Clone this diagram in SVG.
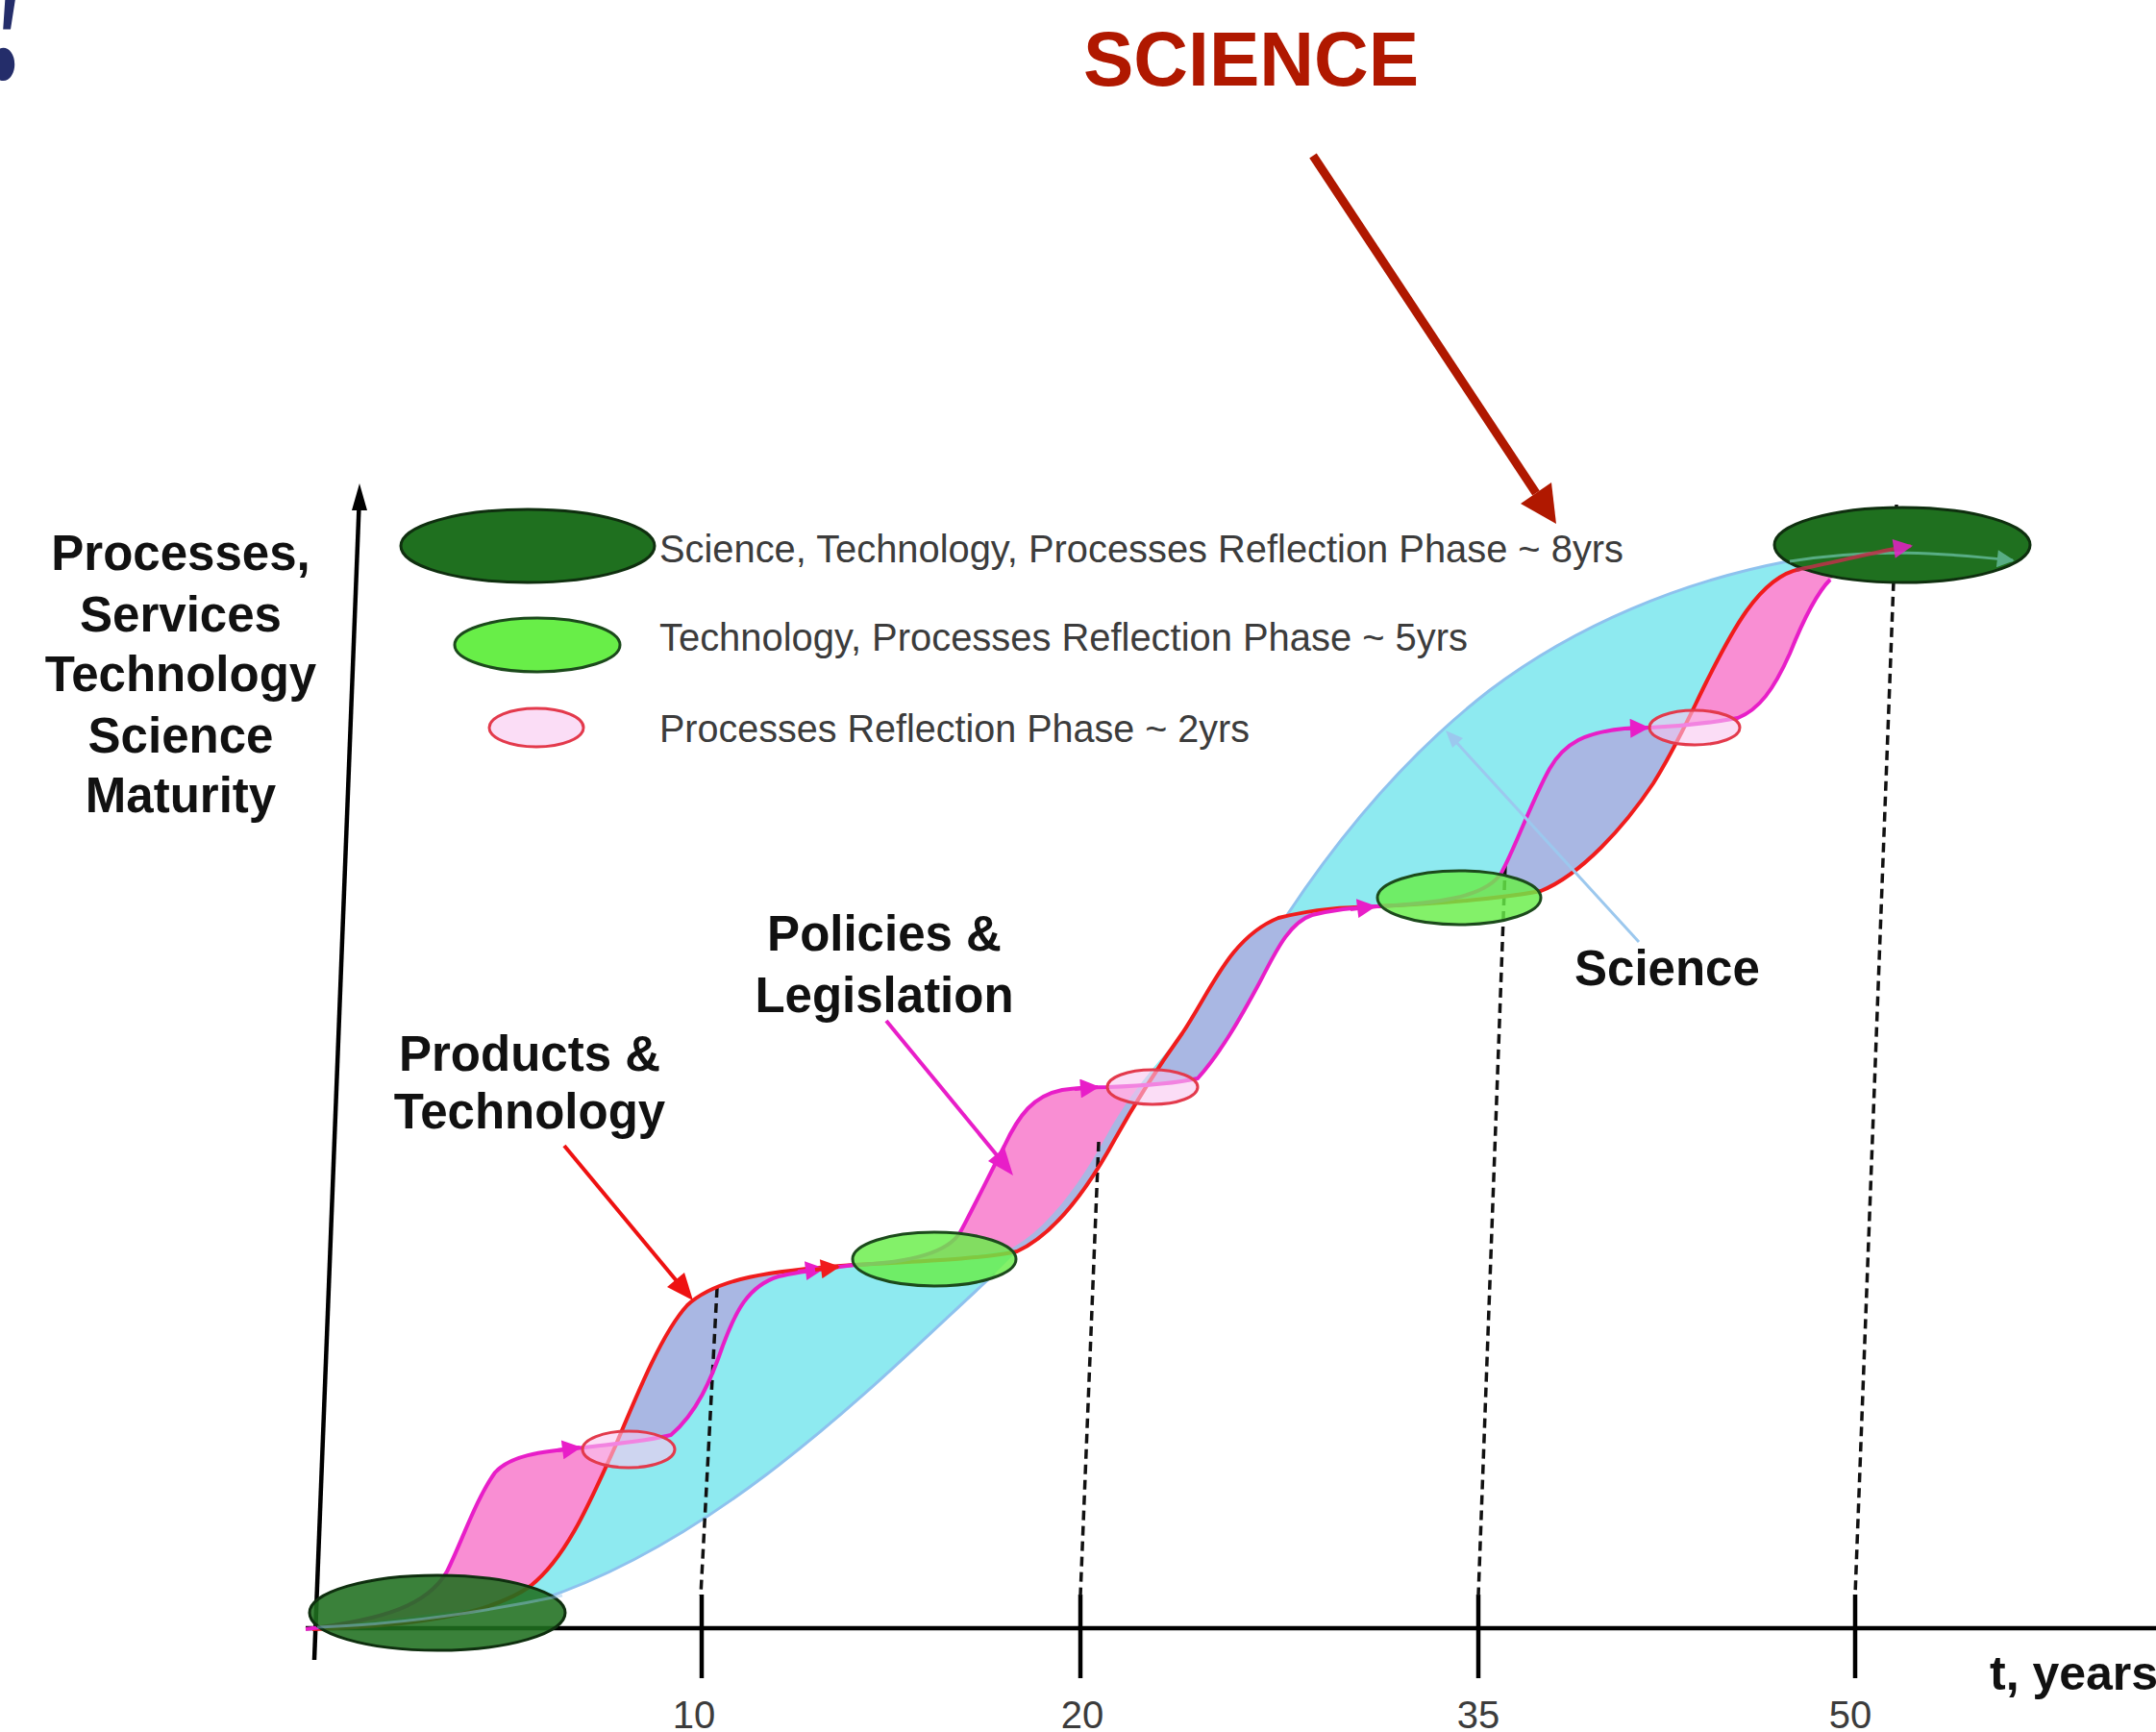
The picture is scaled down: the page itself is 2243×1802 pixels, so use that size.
<svg xmlns="http://www.w3.org/2000/svg" width="2243" height="1802" viewBox="0 0 2243 1802">
<defs>
<style>
.lbl{font-family:"Liberation Sans",Arial,sans-serif;font-weight:bold;font-size:51px;fill:#111;text-anchor:middle}
.leg{font-family:"Liberation Sans",Arial,sans-serif;font-size:40px;fill:#3c3c3c}
.tick{font-family:"Liberation Sans",Arial,sans-serif;font-size:40px;fill:#3c3c3c;text-anchor:middle}
.red{fill:none;stroke:#f01c1c;stroke-width:4}
.mag{fill:none;stroke:#e81ec8;stroke-width:4}
.dash{fill:none;stroke:#111;stroke-width:3.5;stroke-dasharray:10 6}
.axis{fill:none;stroke:#000;stroke-width:4.5}
.dk{fill:#1f701f;stroke:#0f2f0f;stroke-width:3}
.lg{fill:#68ee48;stroke:#1c4a1c;stroke-width:3}
.pk{fill:#f8c6f0;fill-opacity:0.6;stroke:#e33a4c;stroke-width:3}
.sci{fill:none;stroke:#8ec2ee;stroke-width:3}
.pinkfill{fill:#f98ed3}
.lavfill{fill:#a9b7e3}
</style>
<marker id="mh" viewBox="0 0 10 10" refX="9" refY="5" markerWidth="22" markerHeight="20" markerUnits="userSpaceOnUse" orient="auto"><path d="M0,0 L10,5 L0,10 z" fill="#e81ec8"/></marker>
<marker id="rh" viewBox="0 0 10 10" refX="9" refY="5" markerWidth="22" markerHeight="20" markerUnits="userSpaceOnUse" orient="auto"><path d="M0,0 L10,5 L0,10 z" fill="#f01c1c"/></marker>
<marker id="lh" viewBox="0 0 10 10" refX="9" refY="5" markerWidth="20" markerHeight="18" markerUnits="userSpaceOnUse" orient="auto"><path d="M0,0 L10,5 L0,10 z" fill="#7fd6c8"/></marker>
<clipPath id="cyanClip"><path id="cyanPath" d="M 325,1695 C 430,1692 510,1680 552,1650 C 590,1620 615,1560 640,1505 C 665,1445 690,1385 715,1358 C 745,1330 800,1322 889,1316 C 960,1312 1010,1308 1050,1300 C 1088,1280 1122,1235 1152,1180 C 1177,1135 1203,1108 1230,1075 C 1260,1030 1280,975 1330,955 L 1339,952 C 1400,860 1470,780 1550,718 C 1640,650 1750,605 1860,584 L 1873,592 C 1830,600 1800,660 1775,710 C 1760,740 1745,775 1720,815 C 1690,860 1645,910 1603,927 L 1433,943 C 1410,944 1390,946 1365,952 C 1340,960 1325,995 1310,1023 C 1290,1060 1270,1095 1246,1122 L 1190,1128 C 1175,1155 1168,1170 1160,1185 C 1130,1240 1095,1285 1058,1302 L 1035,1325 C 930,1420 760,1600 560,1665 Z"/></clipPath>
</defs>
<rect width="2243" height="1802" fill="#fff"/>

<text transform="translate(-38,80) scale(1,1.45)" x="0" y="0" font-family="Liberation Serif, serif" font-style="italic" font-size="200" fill="#242d6a">?</text>

<g id="title">
<text x="1127" y="89" font-family="Liberation Sans, Arial, sans-serif" font-weight="bold" font-size="80" fill="#b01800" textLength="349" lengthAdjust="spacingAndGlyphs">SCIENCE</text>
</g>

<g id="bands">
<path d="M 325,1695 C 430,1692 510,1680 552,1650 C 590,1620 615,1560 640,1505 C 665,1445 690,1385 715,1358 C 745,1330 800,1322 889,1316 C 960,1312 1010,1308 1050,1300 C 1088,1280 1122,1235 1152,1180 C 1177,1135 1203,1108 1230,1075 C 1260,1030 1280,975 1330,955 L 1339,952 C 1400,860 1470,780 1550,718 C 1640,650 1750,605 1860,584 L 1873,592 C 1830,600 1800,660 1775,710 C 1760,740 1745,775 1720,815 C 1690,860 1645,910 1603,927 L 1433,943 C 1410,944 1390,946 1365,952 C 1340,960 1325,995 1310,1023 C 1290,1060 1270,1095 1246,1122 L 1190,1128 C 1175,1155 1168,1170 1160,1185 C 1130,1240 1095,1285 1058,1302 L 1035,1325 C 930,1420 760,1600 560,1665 Z" fill="#8eeaf0"/>
<g class="pinkfill">
<path id="pk1" d="M 318,1695 C 400,1685 445,1670 465,1635 C 480,1605 495,1560 515,1532 C 530,1515 560,1510 608,1506 C 630,1503 670,1500 698,1493 C 725,1470 740,1435 752,1400 C 765,1365 778,1338 810,1328 C 835,1322 860,1320 889,1316 C 800,1322 745,1330 715,1358 C 690,1385 665,1445 640,1505 C 615,1560 590,1620 552,1650 C 510,1680 430,1692 325,1695 Z"/>
<path id="pk2" d="M 889,1316 C 940,1314 985,1305 999,1282 C 1012,1258 1028,1225 1045,1192 C 1060,1160 1075,1140 1105,1134 C 1125,1131 1140,1131 1152,1131 C 1180,1130 1220,1128 1246,1122 C 1270,1095 1290,1060 1310,1023 C 1325,995 1340,960 1365,952 C 1390,946 1410,944 1433,943 C 1400,944 1370,945 1330,955 C 1280,975 1260,1030 1230,1075 C 1205,1110 1185,1140 1160,1185 C 1130,1240 1095,1285 1058,1302 C 1020,1310 960,1312 889,1316 Z"/>
<path id="pk3" d="M 1433,943 C 1490,940 1545,935 1562,908 C 1575,885 1595,830 1612,800 C 1628,772 1650,762 1690,758 L 1716,757 C 1740,756 1780,752 1808,747 C 1830,738 1845,718 1862,680 C 1878,640 1892,615 1904,603 C 1930,585 1960,572 1988,568 C 1950,575 1910,585 1873,592 C 1830,600 1800,660 1775,710 C 1760,740 1745,775 1720,815 C 1690,860 1645,910 1603,927 C 1560,935 1500,940 1433,943 Z"/>
</g>
<g class="lavfill" clip-path="url(#cyanClip)">
<use href="#pk1"/>
<use href="#pk2"/>
<use href="#pk3"/>
</g>
<path class="sci" d="M 560,1665 C 760,1600 930,1420 1035,1325"/>
<path class="sci" d="M 1339,952 C 1400,860 1470,780 1550,718 C 1640,650 1750,605 1860,584"/>
</g>

<g id="axes">
<path class="axis" d="M 327,1727 L 373.5,527"/>
<polygon points="374,503 382,531 366,531" fill="#000"/>
<path class="axis" d="M 318,1694 L 2243,1694"/>
<path class="axis" d="M 730,1659 V 1746 M 1124,1659 V 1746 M 1538,1659 V 1746 M 1930,1659 V 1746" stroke-width="4"/>
<path class="dash" d="M 746,1340 L 729,1660"/>
<path class="dash" d="M 1143,1188 L 1124,1660"/>
<path class="dash" d="M 1566,900 L 1538,1660"/>
<path class="dash" d="M 1973,525 L 1930,1660"/>
<text class="tick" x="722" y="1798">10</text>
<text class="tick" x="1126" y="1798">20</text>
<text class="tick" x="1538" y="1798">35</text>
<text class="tick" x="1925" y="1798">50</text>
<text x="2070" y="1758" font-family="Liberation Sans, Arial, sans-serif" font-weight="bold" font-size="50" fill="#111">t, years</text>
</g>

<g id="connectors">
<path class="red" d="M 325,1695 C 430,1692 510,1680 552,1650 C 590,1620 615,1560 640,1505 C 665,1445 690,1385 715,1358 C 745,1330 800,1322 889,1316 C 960,1312 1020,1310 1058,1302 C 1095,1285 1130,1240 1160,1185 C 1185,1140 1205,1110 1230,1075 C 1260,1030 1280,975 1330,955 C 1370,945 1400,944 1433,943 C 1500,940 1560,935 1603,927 C 1645,910 1690,860 1720,815 C 1745,775 1760,740 1775,710 C 1800,660 1830,600 1873,592"/>
<path class="mag" d="M 318,1695 C 400,1685 445,1670 465,1635 C 480,1605 495,1560 515,1532 C 530,1515 560,1510 608,1506 C 630,1503 670,1500 698,1493 C 725,1470 740,1435 752,1400 C 765,1365 778,1338 810,1328 C 835,1322 860,1320 889,1316 C 940,1314 985,1305 999,1282 C 1012,1258 1028,1225 1045,1192 C 1060,1160 1075,1140 1105,1134 C 1125,1131 1140,1131 1152,1131 C 1180,1130 1220,1128 1246,1122 C 1270,1095 1290,1060 1310,1023 C 1325,995 1340,960 1365,952 C 1390,946 1410,944 1433,943 C 1490,940 1545,935 1562,908 C 1575,885 1595,830 1612,800 C 1628,772 1650,762 1690,758 L 1716,757 C 1740,756 1780,752 1808,747 C 1830,738 1845,718 1862,680 C 1878,640 1892,615 1904,603"/>
<path class="mag" d="M 580,1509 L 603,1506" marker-end="url(#mh)"/>
<path class="mag" d="M 830,1323 L 856,1320" marker-end="url(#mh)"/>
<path class="red" d="M 848,1321 L 872,1318" marker-end="url(#rh)"/>
<path class="mag" d="M 1118,1133 L 1142,1131" marker-end="url(#mh)"/>
<path class="mag" d="M 1405,946 L 1430,943" marker-end="url(#mh)"/>
<path class="mag" d="M 1690,758 L 1714,757" marker-end="url(#mh)"/>

<path d="M 1366,162 L 1598,513" fill="none" stroke="#b01800" stroke-width="9"/>
<polygon points="1619,545 1614,502 1582,524" fill="#b01800"/>
<path d="M 587,1192 L 705,1334" fill="none" stroke="#ee1111" stroke-width="4"/>
<polygon points="721,1353 712,1324 694,1339" fill="#ee1111"/>
<path d="M 922,1062 L 1038,1203" fill="none" stroke="#e81ec8" stroke-width="4"/>
<polygon points="1054,1223 1045,1194 1028,1208" fill="#e81ec8"/>
<path d="M 1705,980 L 1514,771" fill="none" stroke="#9cc8ee" stroke-width="3"/>
<polygon points="1504,760 1522,768 1511,778" fill="#9cc8ee"/>
</g>

<g id="node-e0"><ellipse class="dk" cx="455" cy="1678" rx="133" ry="39" fill-opacity="0.88"/>
<path d="M 330,1693 C 420,1690 500,1678 585,1660" fill="none" stroke="#8ec2ee" stroke-width="3" opacity="0.45"/></g>
<g id="node-p1"><ellipse class="pk" cx="654" cy="1508" rx="48" ry="19"/></g>
<g id="node-e1"><ellipse class="lg" cx="972" cy="1310" rx="85" ry="28" fill-opacity="0.82"/></g>
<g id="node-p2"><ellipse class="pk" cx="1199" cy="1131" rx="47" ry="18"/></g>
<g id="node-e2"><ellipse class="lg" cx="1518" cy="934" rx="85" ry="28" fill-opacity="0.82"/></g>
<g id="node-p3"><ellipse class="pk" cx="1763" cy="757" rx="47" ry="18"/></g>
<g id="node-e3"><ellipse class="dk" cx="1979" cy="567" rx="133" ry="39"/>
<path d="M 1862,584 C 1950,570 2020,575 2094,583" fill="none" stroke="#7fd6c8" stroke-width="3" opacity="0.6" marker-end="url(#lh)"/>
<path d="M 1868,593 C 1910,585 1950,574 1988,568" fill="none" stroke="#c0304a" stroke-width="4" opacity="0.85" marker-end="url(#mh)"/></g>

<g id="legend">
<ellipse class="dk" cx="549" cy="568" rx="132" ry="38"/>
<ellipse class="lg" cx="559" cy="671" rx="86" ry="28"/>
<ellipse class="pk" cx="558" cy="757" rx="49" ry="20"/>
<text class="leg" x="686" y="585" textLength="1003" lengthAdjust="spacingAndGlyphs">Science, Technology, Processes Reflection Phase ~ 8yrs</text>
<text class="leg" x="686" y="677" textLength="841" lengthAdjust="spacingAndGlyphs">Technology, Processes Reflection Phase ~ 5yrs</text>
<text class="leg" x="686" y="772" textLength="614" lengthAdjust="spacingAndGlyphs">Processes Reflection Phase ~ 2yrs</text>
</g>

<g id="y-label">
<text class="lbl" x="188" y="593">Processes,</text>
<text class="lbl" x="188" y="657">Services</text>
<text class="lbl" x="188" y="719">Technology</text>
<text class="lbl" x="188" y="783">Science</text>
<text class="lbl" x="188" y="845">Maturity</text>
</g>
<g id="label-products">
<text class="lbl" x="551" y="1114">Products &amp;</text>
<text class="lbl" x="551" y="1174">Technology</text>
</g>
<g id="label-policies">
<text class="lbl" x="920" y="989">Policies &amp;</text>
<text class="lbl" x="920" y="1053">Legislation</text>
</g>
<g id="label-science">
<text class="lbl" x="1638" y="1025" style="text-anchor:start">Science</text>
</g>
</svg>
